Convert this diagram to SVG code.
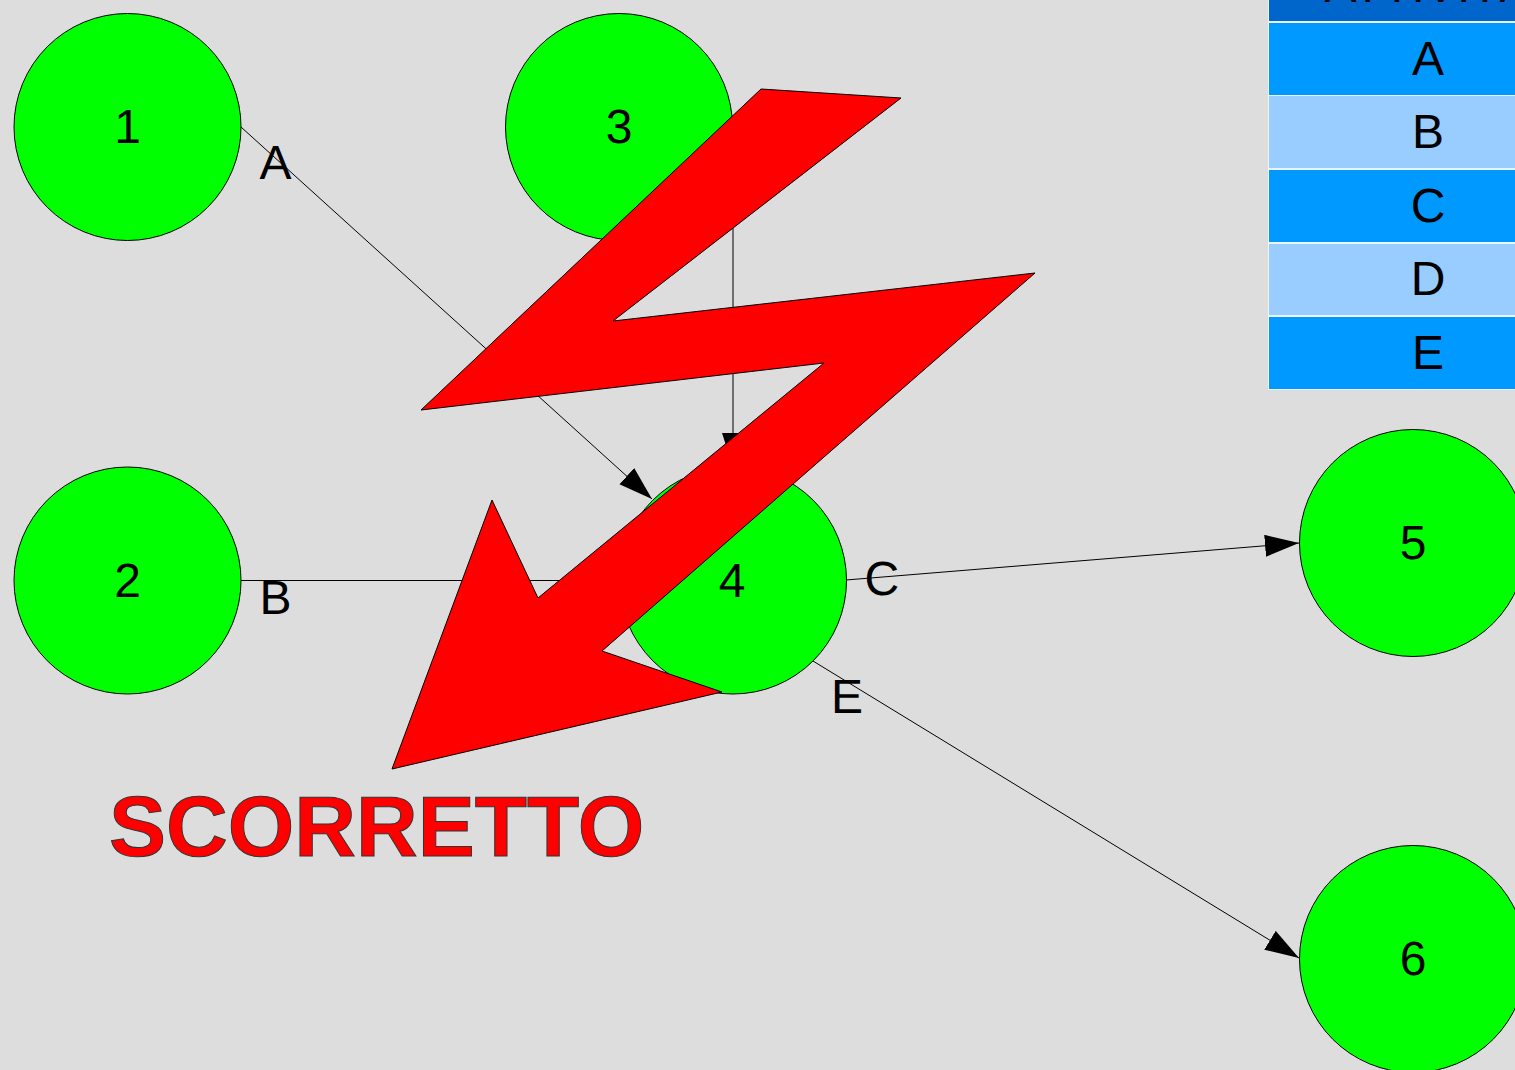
<svg xmlns="http://www.w3.org/2000/svg" width="1515" height="1070" viewBox="0 0 1515 1070">
<defs>
<marker id="arr" markerUnits="userSpaceOnUse" markerWidth="36" markerHeight="24" refX="34" refY="11" orient="auto"><path d="M0 0L34 11L0 22Z" fill="#000"/></marker>
</defs>
<style>
text{font-family:"Liberation Sans",Arial,sans-serif;fill:#000;text-rendering:geometricPrecision}
.n circle{fill:#0f0;stroke:#000;stroke-width:1}
.n text{font-size:48px;text-anchor:middle}
.l{font-size:48px}
.c{fill:none;stroke:#000;stroke-width:1}
.r text{font-size:48px;text-anchor:middle}
.h{fill:#0066cc}.a{fill:#0099ff}.b{fill:#99ccff}
</style>
<rect width="1515" height="1070" fill="#dddddd"/>
<g id="connectors">
<path class="c" d="M241 127L652 499" marker-end="url(#arr)"/>
<path class="c" d="M733 220L733 467" marker-end="url(#arr)"/>
<path class="c" d="M241 580.500L620 580.500"/>
<path class="c" d="M846 580L1299 543" marker-end="url(#arr)"/>
<path class="c" d="M813 661L1299 958" marker-end="url(#arr)"/>
</g>
<g id="node1" class="n"><circle cx="127.500" cy="127" r="113.500"/><text x="127.500" y="143">1</text></g>
<g id="node2" class="n"><circle cx="127.500" cy="580.500" r="113.500"/><text x="127.500" y="596.500">2</text></g>
<g id="node3" class="n"><circle cx="619" cy="127" r="113.500"/><text x="619" y="143">3</text></g>
<g id="node4" class="n"><circle cx="733" cy="580.500" r="113.500"/><text x="732" y="596.500">4</text></g>
<g id="node5" class="n"><circle cx="1413" cy="543" r="113.500"/><text x="1413" y="559">5</text></g>
<g id="node6" class="n"><circle cx="1413" cy="959" r="113.500"/><text x="1413" y="975">6</text></g>
<g id="labels">
<text class="l" x="259.500" y="179">A</text>
<text class="l" x="259.500" y="614">B</text>
<text class="l" x="864.500" y="595">C</text>
<text class="l" x="831" y="712.500">E</text>
</g>
<g id="bolt"><path d="M761 89L901 98L613 321L1035 273L824 457L602 651L722 692L392 769L492 500L538 598L824 363L421 410Z" fill="#f00" stroke="#000" stroke-width="1"/></g>
<g id="scorretto"><text x="109" y="856" font-size="85.500" font-weight="700" style="fill:#f00;stroke:#333;stroke-width:1">SCORRETTO</text></g>
<g id="table" class="r">
<rect x="1268" y="-52" width="247" height="442" fill="#eef4fb"/>
<rect class="h" x="1269" y="-52" width="246" height="73"/>
<text x="1428" y="1.500">ATTIVITÀ</text>
<rect class="a" x="1269" y="23" width="246" height="72"/><text x="1428" y="74.500">A</text>
<rect class="b" x="1269" y="96" width="246" height="72"/><text x="1428" y="148">B</text>
<rect class="a" x="1269" y="170" width="246" height="72"/><text x="1428" y="221.500">C</text>
<rect class="b" x="1269" y="244" width="246" height="71"/><text x="1428" y="295">D</text>
<rect class="a" x="1269" y="317" width="246" height="72"/><text x="1428" y="368.500">E</text>
</g>
</svg>
